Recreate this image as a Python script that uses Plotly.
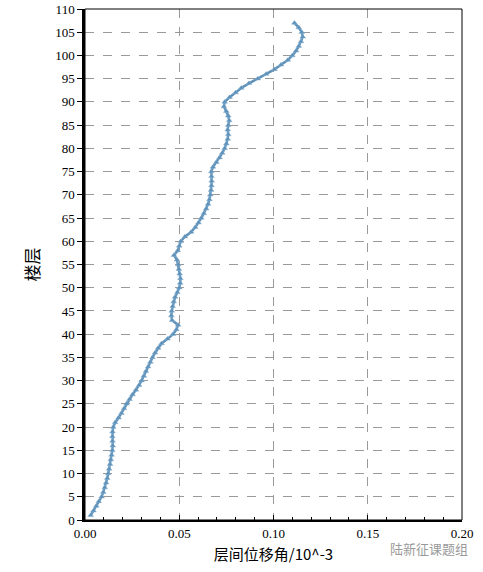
import plotly.graph_objects as go

floors = list(range(1, 108))
drift = [
    0.0030, 0.0045, 0.0060, 0.0073, 0.0088, 0.0097, 0.0105, 0.0112, 0.0118, 0.0123,
    0.0128, 0.0133, 0.0137, 0.0141, 0.0145, 0.0147, 0.0146, 0.0145, 0.0146, 0.0150,
    0.0160, 0.0178, 0.0193, 0.0207, 0.0220, 0.0236, 0.0252, 0.0270, 0.0287, 0.0300,
    0.0312, 0.0323, 0.0335, 0.0347, 0.0358, 0.0372, 0.0388, 0.0406, 0.0438, 0.0467,
    0.0485, 0.0494, 0.0462, 0.0458, 0.0460, 0.0465, 0.0470, 0.0478, 0.0490, 0.0500,
    0.0505, 0.0506, 0.0502, 0.0498, 0.0495, 0.0488, 0.0472, 0.0492, 0.0500, 0.0508,
    0.0530, 0.0563, 0.0585, 0.0602, 0.0617, 0.0630, 0.0643, 0.0653, 0.0660, 0.0665,
    0.0669, 0.0671, 0.0672, 0.0671, 0.0670, 0.0679, 0.0697, 0.0714, 0.0728, 0.0741,
    0.0750, 0.0757, 0.0760, 0.0757, 0.0760, 0.0765, 0.0760, 0.0750, 0.0737, 0.0741,
    0.0767, 0.0799, 0.0829, 0.0870, 0.0917, 0.0961, 0.1005, 0.1040, 0.1076, 0.1100,
    0.1120, 0.1134, 0.1146, 0.1155, 0.1150, 0.1134, 0.1111,
]
x_ticks = [0.00, 0.05, 0.10, 0.15, 0.20]
x_tick_labels = ["0.00", "0.05", "0.10", "0.15", "0.20"]
y_ticks = list(range(0, 111, 5))

x_title = "层间位移角/10^-3"
y_title = "楼层"
watermark = "陆新征课题组"

serif = "Liberation Serif, Times New Roman, serif"
cjk = "Noto Sans CJK SC"

fig = go.Figure()
fig.add_trace(go.Scatter(
    x=drift, y=floors, mode="lines+markers",
    line=dict(color="#5E8FB6", width=2.5),
    marker=dict(symbol="triangle-up", size=5, color="#5E8FB6",
                line=dict(color="#8CB8DA", width=0.5)),
    showlegend=False,
))

fig.update_layout(
    width=483, height=572,
    margin=dict(l=85, r=21, t=9, b=52),
    paper_bgcolor="white", plot_bgcolor="white",
    xaxis=dict(
        range=[0, 0.20], tickvals=x_ticks, ticktext=x_tick_labels,
        showgrid=True, gridcolor="#9A9A9A", griddash="dash", gridwidth=1,
        ticks="inside", ticklen=5, tickcolor="black",
        minor=dict(dtick=0.01, ticks="inside", ticklen=3, tickcolor="black", showgrid=False),
        showline=True, linecolor="black", linewidth=2,
        tickfont=dict(family=serif, size=13, color="black"),
        zeroline=False, automargin=False,
        title=dict(text=x_title, font=dict(family=cjk, size=15, color="black"), standoff=10),
    ),
    yaxis=dict(
        range=[0, 110], tickvals=y_ticks,
        showgrid=True, gridcolor="#9A9A9A", griddash="dash", gridwidth=1,
        ticks="outside", ticklen=5, tickcolor="black",
        showline=True, linecolor="black", linewidth=2.5,
        tickfont=dict(family=serif, size=13, color="black"),
        zeroline=False, automargin=False,
        title=dict(text=y_title, font=dict(family=cjk, size=17, color="black"), standoff=12),
    ),
)

fig.add_shape(type="rect", xref="paper", yref="paper", x0=0, y0=0, x1=1, y1=1,
              line=dict(color="black", width=1), layer="above")

fig.add_annotation(text=watermark, xref="paper", yref="paper", x=1.02, y=-0.055,
                   xanchor="right", yanchor="middle", showarrow=False,
                   font=dict(family=cjk, size=13, color="#9A9A9A"))

fig.write_html("out.html", config={"displayModeBar": False},
               post_script="document.body.style.margin='0';document.body.style.overflow='hidden';")
